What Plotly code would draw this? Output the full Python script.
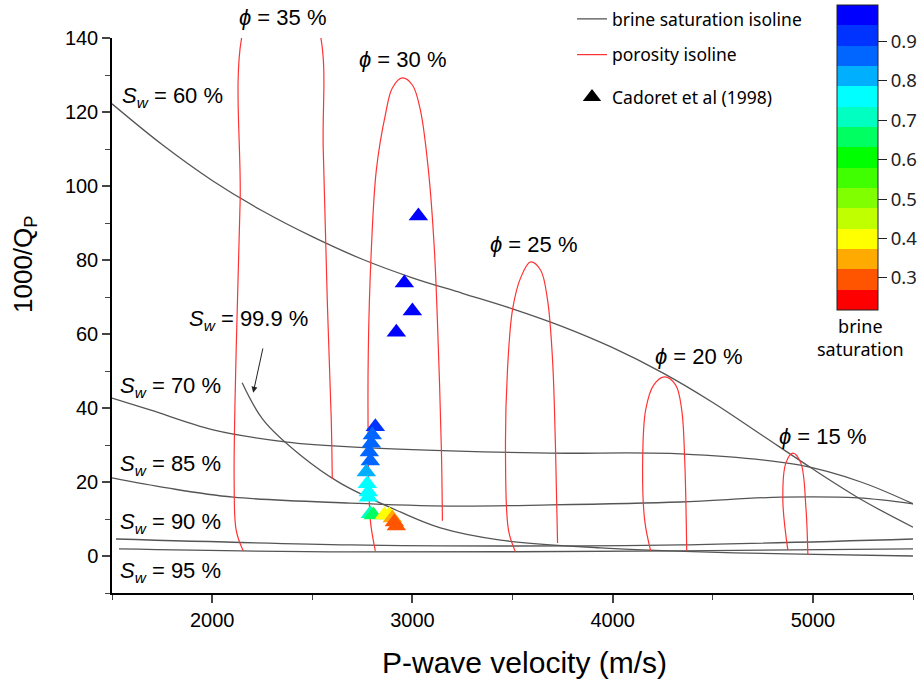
import plotly.graph_objects as go

# ---------------- data ----------------
# brine saturation isolines: P-wave velocity (m/s), 1000/Qp
sw60_v = [1500, 1750, 2000, 2250, 2500, 2750, 3000, 3250, 3500, 3750, 4000, 4250, 4500, 4750, 5000, 5250, 5500]
sw60_q = [122.2, 111.2, 101.5, 93.3, 86.3, 80.2, 75.2, 71.0, 66.8, 62.0, 56.3, 49.5, 41.5, 32.5, 23.5, 15.0, 7.8]

sw70_v = [1500, 1690, 2005, 2375, 2690, 3190, 3690, 4340, 4930, 5240, 5500]
sw70_q = [42.7, 39.5, 34.1, 30.8, 29.5, 28.4, 27.8, 27.6, 24.6, 20.0, 14.1]

sw85_v = [1500, 1775, 2105, 2690, 3190, 3690, 4340, 4840, 5225, 5500]
sw85_q = [21.1, 18.4, 15.9, 14.3, 13.5, 13.8, 14.6, 15.9, 15.7, 14.1]

sw90_v = [1520, 2690, 3440, 4340, 5500]
sw90_q = [4.6, 3.0, 2.7, 3.0, 4.6]

sw95_v = [1535, 2690, 4340, 5500]
sw95_q = [1.9, 1.1, 1.4, 1.9]

sw999_v = [2150, 2255, 2440, 2640, 2940, 3140, 3440, 3940, 4440, 4940, 5500]
sw999_q = [46.8, 36.8, 27.3, 19.7, 11.9, 7.6, 4.3, 2.2, 1.1, 0.5, 0.0]

# porosity isolines
phi35_v = [2155, 2120, 2110, 2120, 2140, 2155, 2345, 2535, 2555, 2575, 2595, 2600]
phi35_q = [1.4, 7.0, 20.5, 55.7, 96.2, 142.2, 165.0, 142.2, 109.7, 69.2, 36.8, 20.8]

phi30_v = [2815, 2790, 2780, 2780, 2795, 2820, 2865, 2900, 2950, 3000, 3040, 3080, 3110, 3130, 3145, 3150]
phi30_q = [1.4, 9.7, 28.6, 55.7, 82.7, 104.3, 119.2, 126.5, 129.2, 127.3, 120.5, 104.3, 82.7, 55.7, 28.6, 9.5]

phi25_v = [3515, 3480, 3465, 3475, 3500, 3540, 3590, 3640, 3675, 3700, 3715, 3725]
phi25_q = [1.1, 7.0, 28.6, 50.3, 66.5, 75.1, 79.5, 77.3, 69.2, 53.0, 28.6, 3.5]

phi20_v = [4190, 4160, 4150, 4165, 4205, 4260, 4315, 4345, 4360, 4370]
phi20_q = [1.4, 9.7, 25.9, 39.5, 46.2, 48.4, 46.2, 39.5, 25.9, 1.4]

phi15_v = [4875, 4850, 4865, 4900, 4940, 4965, 4975]
phi15_q = [1.6, 15.1, 25.1, 27.8, 25.1, 13.2, 0.3]

# Cadoret et al (1998) measurements
cad_v = [3030, 2960, 3000, 2920, 2815, 2800, 2795, 2785, 2790, 2770, 2775, 2780, 2780,
         2790, 2805, 2860, 2885, 2900, 2910, 2920]
cad_q = [91.9, 73.8, 66.2, 60.5, 34.9, 32.7, 30.5, 28.1, 25.7, 22.7, 19.5, 17.3, 15.9,
         11.4, 11.1, 11.1, 11.1, 10.3, 9.2, 8.1]
cad_sw = [0.98, 0.98, 0.98, 0.98, 0.92, 0.88, 0.87, 0.86, 0.85, 0.82, 0.78, 0.77, 0.76,
          0.70, 0.66, 0.40, 0.38, 0.36, 0.32, 0.30]

# colour bar levels (low -> high)
cb_colors = ["#FF0000", "#FF5500", "#FFAA00", "#FFFF00", "#C0FF00", "#80FF00", "#40FF00",
             "#00FF00", "#00FF60", "#00FFC0", "#00FFFF", "#00B0FF", "#0066FF", "#0033FF", "#0000FF"]
cb_min, cb_max = 0.218, 0.993
cb_ticks = [0.3, 0.4, 0.5, 0.6, 0.7, 0.8, 0.9]

# ---------------- figure ----------------
GRAY = "#555555"
RED = "#FF3333"
FONT = "Liberation Sans"
PLOT_L, PLOT_R = 112, 913
PLOT_T, PLOT_B = 38, 593          # plot area in pixels (top, bottom)
PH = PLOT_B - PLOT_T
PW = PLOT_R - PLOT_L

def py(pix):                       # page pixel row -> paper y
    return (PLOT_B - pix) / PH

def px(pix):                       # page pixel column -> paper x
    return (pix - PLOT_L) / PW

fig = go.Figure()

sw_curves = [(sw60_v, sw60_q), (sw70_v, sw70_q), (sw85_v, sw85_q), (sw90_v, sw90_q),
             (sw95_v, sw95_q), (sw999_v, sw999_q)]
for i, (v, q) in enumerate(sw_curves):
    fig.add_trace(go.Scatter(x=v, y=q, mode="lines", line=dict(color=GRAY, width=1.3, shape="spline"),
                             name="brine saturation isoline", legendgroup="a", showlegend=(i == 0)))

phi_curves = [(phi35_v, phi35_q), (phi30_v, phi30_q), (phi25_v, phi25_q), (phi20_v, phi20_q),
              (phi15_v, phi15_q)]
for i, (v, q) in enumerate(phi_curves):
    fig.add_trace(go.Scatter(x=v, y=q, mode="lines", line=dict(color=RED, width=1.2, shape="spline"),
                             name="porosity isoline", legendgroup="b", showlegend=(i == 0)))

n = len(cb_colors)
cscale = []
for i, c in enumerate(cb_colors):
    cscale.append([i / n, c])
    cscale.append([(i + 1) / n, c])

fig.add_trace(go.Scatter(
    x=cad_v, y=cad_q, mode="markers", showlegend=False,
    marker=dict(symbol="triangle-up", size=17, color=cad_sw, colorscale=cscale,
                cmin=cb_min, cmax=cb_max, line=dict(width=0),
                colorbar=dict(x=px(837), xanchor="left", xpad=0, ypad=0,
                              y=py(5), yanchor="top",
                              lenmode="pixels", len=305, thickness=41,
                              outlinewidth=1, outlinecolor="#222",
                              tickvals=cb_ticks, ticks="outside", ticklen=9, tickcolor="#222",
                              tickfont=dict(family="Noto Sans", size=18.5, color="#222"))),
))
fig.add_trace(go.Scatter(x=[None], y=[None], mode="markers", name="Cadoret et al (1998)",
                         legend="legend2",
                         marker=dict(symbol="triangle-up", size=20, color="black")))

ann = []
def sw_label(x, y, val):
    ann.append(dict(x=x, y=y, xref="x", yref="y", xanchor="left", yanchor="middle", showarrow=False,
                    text=f"<i>S</i><sub><i>w</i></sub> = {val} %",
                    font=dict(family=FONT, size=22, color="black")))

def phi_label(x, y, val, yref="y"):
    ann.append(dict(x=x, y=y, xref="x", yref=yref, xanchor="left", yanchor="middle", showarrow=False,
                    text=f"<i>ϕ</i> = {val} %", font=dict(family=FONT, size=22, color="black")))

sw_label(1540, 124.1, "60")
sw_label(1530, 45.7, "70")
sw_label(1530, 24.6, "85")
sw_label(1530, 8.9, "90")
sw_label(1530, -4.3, "95")
sw_label(1875, 63.8, "99.9")
phi_label(2125, py(18), "35", yref="paper")
phi_label(2725, 134.1, "30")
phi_label(3380, 84.3, "25")
phi_label(4200, 53.8, "20")
phi_label(4820, 32.2, "15")

ann.append(dict(x=2205, y=44.1, xref="x", yref="y", ax=2255, ay=56.5, axref="x", ayref="y",
                text="", showarrow=True, arrowhead=2, arrowsize=1.2, arrowwidth=1, arrowcolor="#222"))
ann.append(dict(x=px(860), y=py(312), xref="paper", yref="paper", yanchor="top",
                xanchor="center", showarrow=False, text="brine<br>saturation",
                font=dict(family="Noto Sans", size=18, color="black")))
ann.append(dict(x=px(24), y=py(265), xref="paper", yref="paper",
                xanchor="center", yanchor="middle", showarrow=False, textangle=-90,
                text="1000/Q<sub>P</sub>", font=dict(family=FONT, size=26, color="black")))
ann.append(dict(x=px(524), y=py(662), xref="paper", yref="paper",
                xanchor="center", yanchor="middle", showarrow=False,
                text="P-wave velocity (m/s)", font=dict(family=FONT, size=30, color="black")))

fig.update_layout(
    width=924, height=683,
    margin=dict(l=PLOT_L, r=924 - PLOT_R, t=PLOT_T, b=683 - PLOT_B, autoexpand=False),
    plot_bgcolor="white", paper_bgcolor="white",
    font=dict(family=FONT, color="black"),
    annotations=ann,
    showlegend=True,
    legend=dict(x=px(572), y=py(1), xanchor="left", yanchor="top", bgcolor="rgba(0,0,0,0)",
                font=dict(family="Noto Sans", size=17.5, color="black"), tracegroupgap=10,
                traceorder="grouped"),
    legend2=dict(x=px(572), y=py(79), xanchor="left", yanchor="top", bgcolor="rgba(0,0,0,0)",
                 font=dict(family="Noto Sans", size=17.5, color="black")),
    xaxis=dict(range=[1500, 5500], showgrid=False, zeroline=False, showline=True,
               linecolor="black", linewidth=1.5, ticks="outside", ticklen=8, tickwidth=1.5,
               dtick=1000, tick0=0, tickfont=dict(family=FONT, size=20),
               minor=dict(ticks="outside", ticklen=5, dtick=500, tickwidth=1.2)),
    yaxis=dict(range=[-10, 140], showgrid=False, zeroline=False, showline=True,
               linecolor="black", linewidth=1.5, ticks="outside", ticklen=8, tickwidth=1.5,
               dtick=20, tick0=0, tickfont=dict(family=FONT, size=20),
               minor=dict(ticks="outside", ticklen=5, dtick=10, tickwidth=1.2)),
)

fig.write_html("out.html")
